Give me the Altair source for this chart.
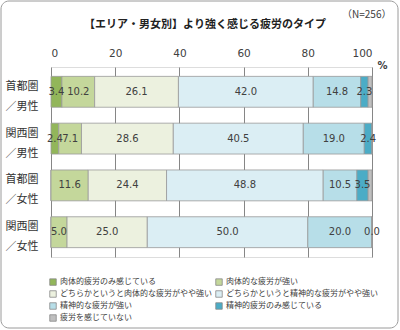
import altair as alt
import pandas as pd

title_text = "【エリア・男女別】より強く感じる疲労のタイプ"
note_text = "（N=256）"
groups = ["首都圏／男性", "関西圏／男性", "首都圏／女性", "関西圏／女性"]
series = [
    "肉体的疲労のみ感じている",
    "肉体的な疲労が強い",
    "どちらかというと肉体的な疲労がやや強い",
    "どちらかというと精神的な疲労がやや強い",
    "精神的な疲労が強い",
    "精神的疲労のみ感じている",
    "疲労を感じていない",
]
values = [
    [3.4, 2.4, 0.0, 0.0],
    [10.2, 7.1, 11.6, 5.0],
    [26.1, 28.6, 24.4, 25.0],
    [42.0, 40.5, 48.8, 50.0],
    [14.8, 19.0, 10.5, 20.0],
    [2.3, 2.4, 3.5, 0.0],
    [1.2, 0.0, 1.2, 0.0],
]
colors = ["#92b65a", "#c4d79b", "#ecf1df", "#dbeef4", "#b7dee8", "#4bacc6", "#bfbfbf"]
x_ticks = [0, 20, 40, 60, 80, 100]

rows = []
for si, name in enumerate(series):
    for gi, g in enumerate(groups):
        rows.append({"group": g, "series": name, "idx": si, "value": values[si][gi]})
df = pd.DataFrame(rows)

JP = "Noto Sans CJK JP"
NUM = "DejaVu Sans"

base = alt.Chart(df).transform_stack(
    stack="value", groupby=["group"], as_=["x0", "x1"], sort=[alt.SortField("idx")]
).transform_calculate(mid="(datum.x0 + datum.x1) / 2")

yenc = alt.Y(
    "group:N",
    sort=groups,
    scale=alt.Scale(paddingInner=0.34, paddingOuter=0.2),
    axis=alt.Axis(
        title=None,
        labelExpr="[slice(datum.label, 0, 3), slice(datum.label, 3)]",
        labelAlign="left",
        labelBaseline="middle",
        labelPadding=46,
        labelOffset=-5,
        labelFont=JP,
        labelFontSize=11,
        labelColor="#333333",
        labelLineHeight=20,
        ticks=False,
        tickSize=0,
        domain=False,
        grid=False,
    ),
)

bars = base.mark_bar(stroke="#999999", strokeWidth=0.8).encode(
    x=alt.X(
        "x0:Q",
        scale=alt.Scale(domain=[0, 100], nice=False),
        axis=alt.Axis(
            orient="top",
            values=x_ticks,
            title="%",
            titleX=331,
            titleY=-2,
            titleAngle=0,
            titleAlign="center",
            titleBaseline="middle",
            titleFont=NUM,
            titleFontSize=10,
            titleFontWeight="bold",
            titleColor="#404040",
            labelFont=NUM,
            labelFontSize=10.5,
            labelColor="#404040",
            labelPadding=9,
            ticks=False,
            domain=False,
            grid=True,
            gridColor="#868686",
            gridWidth=1,
        ),
    ),
    x2="x1:Q",
    y=yenc,
    color=alt.Color(
        "series:N",
        scale=alt.Scale(domain=series, range=colors),
        legend=alt.Legend(
            title=None,
            orient="none",
            direction="horizontal",
            legendX=-2,
            legendY=211,
            columns=2,
            columnPadding=2,
            rowPadding=2,
            symbolType="square",
            symbolSize=42,
            symbolStrokeColor="#888888",
            symbolStrokeWidth=0.8,
            labelFont=JP,
            labelFontSize=8,
            labelColor="#404040",
            labelOffset=3,
        ),
    ),
    order=alt.Order("idx:Q"),
)

labels = base.transform_filter(
    "datum.idx != 6 && (datum.idx != 0 || datum.value > 0)"
).mark_text(font=NUM, fontSize=10, color="#404040").encode(
    x=alt.X("mid:Q"),
    y=alt.Y("group:N", sort=groups),
    text=alt.Text("value:Q", format=".1f"),
)

note = alt.Chart(pd.DataFrame({"t": [note_text]})).mark_text(
    font=JP, fontSize=10, color="#404040", align="left", baseline="middle"
).encode(x=alt.value(291), y=alt.value(-52), text="t:N")

title = alt.Chart(pd.DataFrame({"t": [title_text]})).mark_text(
    font=JP, fontSize=11, fontWeight="bold", color="#222222", align="center", baseline="middle"
).encode(x=alt.value(154), y=alt.value(-42), text="t:N")

frame = alt.Chart(pd.DataFrame({"a": [0]})).mark_rect(
    fill="transparent", stroke="#9a9a9a", strokeWidth=1, cornerRadius=8
).encode(x=alt.value(-50), x2=alt.value(347), y=alt.value(-66), y2=alt.value(261))

chart = alt.layer(frame, bars, labels, note, title).properties(
    width=321,
    height=190,
    padding={"left": 51, "top": 67, "right": 28, "bottom": 73},
    autosize=alt.AutoSizeParams(type="none"),
).configure_view(stroke="#868686", strokeWidth=1).configure(background="white")

chart.save("out.html", embed_options={"renderer": "svg", "actions": False})
